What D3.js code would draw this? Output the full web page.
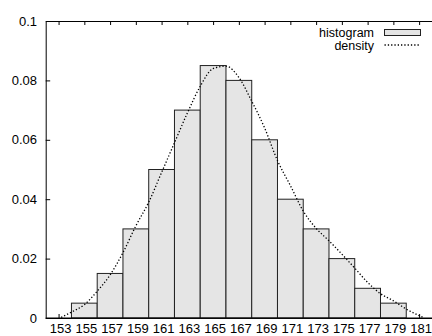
<!DOCTYPE html>
<html>
<head>
<meta charset="utf-8">
<script src="https://cdn.jsdelivr.net/npm/d3@7"></script>
<style>
	body { margin: 0; background: #fff; }
	svg { display: block; font-family: "Liberation Sans", Arial, sans-serif; }
</style>
</head>
<body>
<svg id="chart" width="432" height="336"></svg>
<script>
// histogram bins (centre of each 2-wide bin) and their heights
const binCenters = [155, 157, 159, 161, 163, 165, 167, 169, 171, 173, 175, 177, 179]
const binValues = [0.005, 0.015, 0.03, 0.05, 0.07, 0.085, 0.08, 0.06, 0.04, 0.03, 0.02, 0.01, 0.005]
const binWidth = 2

// density curve
const densityX = [153.2, 154, 155, 156, 157, 158, 159, 160, 161, 162, 163, 164, 165, 166, 167, 168, 169, 170, 171, 172, 173, 174, 175, 176, 177, 178, 179, 180, 181, 181.3]
const densityY = [0.0002, 0.002, 0.0045, 0.009, 0.0145, 0.022, 0.031, 0.039, 0.049, 0.059, 0.069, 0.078, 0.084, 0.0848, 0.081, 0.073, 0.064, 0.053, 0.0446, 0.036, 0.0302, 0.026, 0.0215, 0.0168, 0.012, 0.0082, 0.0058, 0.003, 0.0008, 0.0002]

const xTicks = [153, 155, 157, 159, 161, 163, 165, 167, 169, 171, 173, 175, 177, 179, 181]
const yTicks = [0, 0.02, 0.04, 0.06, 0.08, 0.1]
const legendLabels = ['histogram', 'density']

const svg = d3.select('#chart')
const x = d3.scaleLinear().domain([152, 182]).range([45.7, 432])
const y = d3.scaleLinear().domain([0, 0.1]).range([318, 21])

const fmtY = d => (d === 0 ? '0' : String(+d.toFixed(2)))

// ticks go inward, bars are drawn over them
const gx = svg.append('g')
	.attr('transform', `translate(0,${y(0)})`)
	.call(d3.axisBottom(x).tickValues(xTicks).tickSize(-4).tickSizeOuter(0).tickPadding(6))
gx.selectAll('.tick text').attr('dx', 1.5)
svg.append('g')
	.attr('transform', `translate(0,${y(0.1)})`)
	.call(d3.axisTop(x).tickValues(xTicks).tickSize(-4).tickSizeOuter(0).tickFormat(''))
svg.append('g')
	.attr('transform', `translate(${x(152)},0)`)
	.call(d3.axisLeft(y).tickValues(yTicks).tickSize(-4.5).tickSizeOuter(0).tickPadding(8.7).tickFormat(fmtY))

svg.selectAll('.tick text').attr('font-size', 13).attr('fill', '#000').attr('font-family', null)
svg.selectAll('.domain, .tick line').attr('stroke', '#000')

const bins = binCenters.map((c, i) => ({ c, v: binValues[i] }))
svg.append('g')
	.selectAll('rect')
	.data(bins)
	.enter()
	.append('rect')
	.attr('x', d => x(d.c - binWidth / 2))
	.attr('y', d => y(d.v))
	.attr('width', d => x(d.c + binWidth / 2) - x(d.c - binWidth / 2))
	.attr('height', d => y(0) - y(d.v))
	.attr('fill', '#e5e5e5')
	.attr('stroke', '#222')
	.attr('stroke-width', 1)

// redraw the bottom axis line over the bar edges
svg.append('line')
	.attr('x1', x(152)).attr('x2', x(182))
	.attr('y1', y(0)).attr('y2', y(0))
	.attr('stroke', '#000')

const line = d3
	.line()
	.x(d => x(d[0]))
	.y(d => y(d[1]))
	.curve(d3.curveMonotoneX)

svg.append('path')
	.attr('d', line(densityX.map((v, i) => [v, densityY[i]])))
	.attr('fill', 'none')
	.attr('stroke', '#000')
	.attr('stroke-width', 1.3)
	.attr('stroke-dasharray', '1.3,2')

// legend
const lg = svg.append('g').attr('font-size', 12.5)
lg.append('text')
	.attr('x', 374).attr('y', 32.2).attr('dy', '0.35em')
	.attr('text-anchor', 'end')
	.text(legendLabels[0])
lg.append('rect')
	.attr('x', 384.5).attr('y', 29.5).attr('width', 36).attr('height', 6)
	.attr('fill', '#e5e5e5').attr('stroke', '#222')
lg.append('text')
	.attr('x', 374).attr('y', 45.5).attr('dy', '0.35em')
	.attr('text-anchor', 'end')
	.text(legendLabels[1])
lg.append('line')
	.attr('x1', 384.5).attr('x2', 420.5).attr('y1', 45).attr('y2', 45)
	.attr('stroke', '#000')
	.attr('stroke-width', 1.3)
	.attr('stroke-dasharray', '1.3,2')
</script>
</body>
</html>
